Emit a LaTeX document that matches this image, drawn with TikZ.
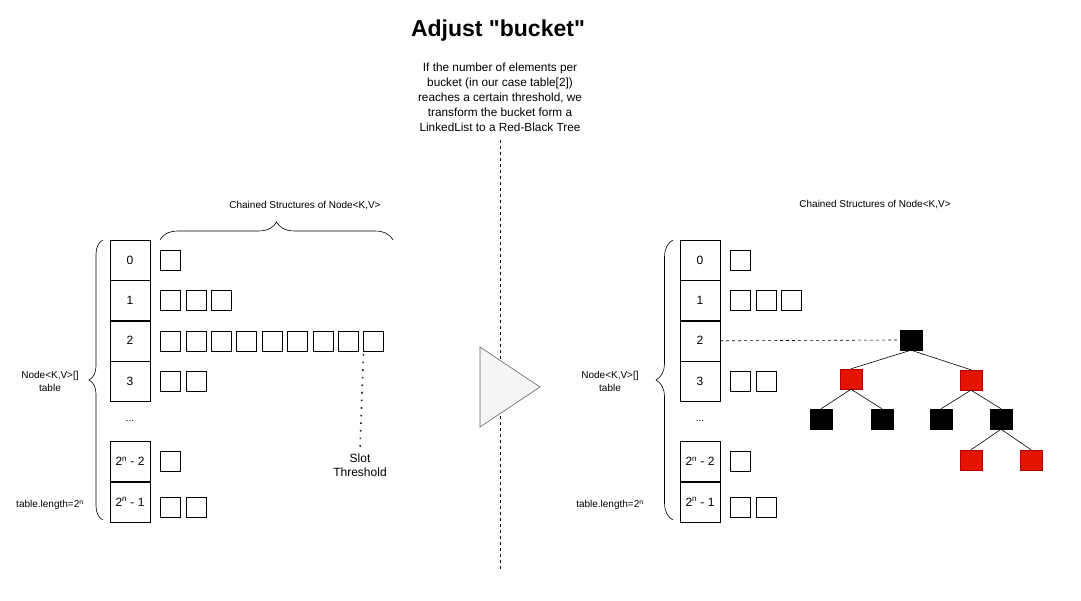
\documentclass[tikz,border=0pt]{standalone}
\usepackage{fontspec}
\setmainfont{Liberation Sans}
\usetikzlibrary{positioning, decorations.pathreplacing, calc}
\definecolor{TreeRed}{HTML}{E51400}
\definecolor{TreeRedLine}{HTML}{B20000}
\definecolor{ArrowFill}{HTML}{F5F5F5}
\definecolor{ArrowLine}{HTML}{666666}
\tikzset{
  % Box styles
  cellbox/.style={rectangle, draw=black, fill=white, minimum width=40pt, minimum height=40pt, inner sep=0pt, font=\fontsize{12}{14}\selectfont},
  slotbox/.style={rectangle, draw=black, fill=white, minimum width=20pt, minimum height=20pt, inner sep=0pt},
  blacknode/.style={rectangle, draw=black, fill=black, minimum width=22pt, minimum height=20pt, inner sep=0pt},
  rednode/.style={rectangle, draw=TreeRedLine, fill=TreeRed, minimum width=22pt, minimum height=20pt, inner sep=0pt},
  % Text styles
  titletext/.style={font=\fontsize{23}{27}\selectfont\bfseries},
  desctext/.style={font=\fontsize{11.8}{15}\selectfont, align=center},
  smalltext/.style={font=\fontsize{10}{13}\selectfont, align=center},
  threshtext/.style={font=\fontsize{12}{14}\selectfont, align=center},
  % Line styles
  treeedge/.style={draw=black, line width=0.6pt},
  dashline/.style={draw=black, line width=0.6pt, dash pattern=on 3pt off 3pt},
  dotline/.style={draw=black!85, line width=1.6pt, dash pattern=on 1.6pt off 6pt},
  bracedeco/.style={decorate, decoration={brace, amplitude=#1}, draw=black, line width=0.6pt}
}
\begin{document}
\begin{tikzpicture}[x=1pt, y=-1pt]
  \useasboundingbox[fill=white] (0,0) rectangle (1081,601);

  % Title and description
  \node[titletext] (title) at (498,30.5) {Adjust \textquotedbl bucket\textquotedbl};
  \node[desctext] (desc) at (500,97.5) {If the number of elements per\\bucket (in our case table[2])\\reaches a certain threshold, we\\transform the bucket form a\\LinkedList to a Red-Black Tree};

  % Separator and arrow
  \coordinate (septop) at (500,140);
  \coordinate (sepbot) at (500,570);
  \draw[dashline] (septop) -- (sepbot);
  \draw[draw=ArrowLine, fill=ArrowFill, line width=0.6pt] (480,347) -- (540,387) -- (480,427) -- cycle;

  % Left table
  \node[cellbox] (L0) at (130,260) {0};
  \node[cellbox, below=0pt of L0] (L1) {1};
  \node[cellbox, below=0pt of L1] (L2) {2};
  \node[cellbox, below=0pt of L2] (L3) {3};
  \node[smalltext] (Ldots) at (130,421) {...};
  \node[cellbox, below=40pt of L3] (L4) {2\textsuperscript{n} - 2};
  \node[cellbox, below=0pt of L4] (L5) {2\textsuperscript{n} - 1};

  % Left chained nodes
  \node[slotbox, right=10pt of L0] (L0s1) {};
  \node[slotbox, right=10pt of L1] (L1s1) {};
  \foreach \i [remember=\i as \prev (initially 1)] in {2,3}
    \node[slotbox, right=5pt of L1s\prev] (L1s\i) {};
  \node[slotbox, right=10pt of L2] (L2s1) {};
  \foreach \i [remember=\i as \prev (initially 1)] in {2,...,9}
    \node[slotbox, right=5pt of L2s\prev] (L2s\i) {};
  \node[slotbox, right=10pt of L3] (L3s1) {};
  \node[slotbox, right=5pt of L3s1] (L3s2) {};
  \node[slotbox, right=10pt of L4] (L4s1) {};
  \node[slotbox, right=10pt of L5, yshift=-5pt] (L5s1) {};
  \node[slotbox, right=5pt of L5s1] (L5s2) {};

  % Slot threshold
  \node[threshtext] (thresh) at (360,465) {Slot\\Threshold};
  \draw[dotline] ($(L2s9.south west)+(0,3)$) -- (thresh.north);

  % Left braces and labels
  \coordinate (LBtopL) at (160,240);
  \coordinate (LBtopR) at (393,240);
  \draw[bracedeco=18pt] (LBtopL) -- (LBtopR);
  \node[smalltext] (Lchain) at (305,206) {Chained Structures of Node<K,V>};
  \coordinate (LBbot) at (103,520);
  \coordinate (LBtop) at (103,240);
  \draw[bracedeco=14pt] (LBbot) -- (LBtop);
  \node[smalltext] (Ltable) at (50,381) {Node<K,V>[]\\table};
  \node[smalltext] (Llength) at (50,505) {table.length=2\textsuperscript{n}};

  % Right table
  \node[cellbox] (R0) at (700,260) {0};
  \node[cellbox, below=0pt of R0] (R1) {1};
  \node[cellbox, below=0pt of R1] (R2) {2};
  \node[cellbox, below=0pt of R2] (R3) {3};
  \node[smalltext] (Rdots) at (700,421) {...};
  \node[cellbox, below=40pt of R3] (R4) {2\textsuperscript{n} - 2};
  \node[cellbox, below=0pt of R4] (R5) {2\textsuperscript{n} - 1};

  % Right chained nodes
  \node[slotbox, right=10pt of R0] (R0s1) {};
  \node[slotbox, right=10pt of R1] (R1s1) {};
  \foreach \i [remember=\i as \prev (initially 1)] in {2,3}
    \node[slotbox, right=5pt of R1s\prev] (R1s\i) {};
  \node[slotbox, right=10pt of R3] (R3s1) {};
  \node[slotbox, right=5pt of R3s1] (R3s2) {};
  \node[slotbox, right=10pt of R4] (R4s1) {};
  \node[slotbox, right=10pt of R5, yshift=-5pt] (R5s1) {};
  \node[slotbox, right=5pt of R5s1] (R5s2) {};

  % Right braces and labels
  \node[smalltext] (Rchain) at (875,205) {Chained Structures of Node<K,V>};
  \coordinate (RBbot) at (673,520);
  \coordinate (RBtop) at (673,240);
  \draw[bracedeco=17pt] (RBbot) -- (RBtop);
  \node[smalltext] (Rtable) at (610,381) {Node<K,V>[]\\table};
  \node[smalltext] (Rlength) at (610,505) {table.length=2\textsuperscript{n}};

  % Red-Black tree
  \node[blacknode] (root) at (911,340) {};
  \node[rednode] (tl) at (851,379) {};
  \node[rednode] (tr) at (971,380) {};
  \node[blacknode] (tll) at (821,419) {};
  \node[blacknode] (tlr) at (882,419) {};
  \node[blacknode] (trl) at (941,419) {};
  \node[blacknode] (trr) at (1001,419) {};
  \node[rednode] (trrl) at (971,460) {};
  \node[rednode] (trrr) at (1031,460) {};

  \draw[dashline] (R2.east) -- (root.west);
  \draw[treeedge] (root.south) -- (tl.north);
  \draw[treeedge] (root.south) -- (tr.north);
  \draw[treeedge] (tl.south) -- (tll.north);
  \draw[treeedge] (tl.south) -- (tlr.north);
  \draw[treeedge] (tr.south) -- (trl.north);
  \draw[treeedge] (tr.south) -- (trr.north);
  \draw[treeedge] (trr.south) -- (trrl.north);
  \draw[treeedge] (trr.south) -- (trrr.north);
\end{tikzpicture}
\end{document}
